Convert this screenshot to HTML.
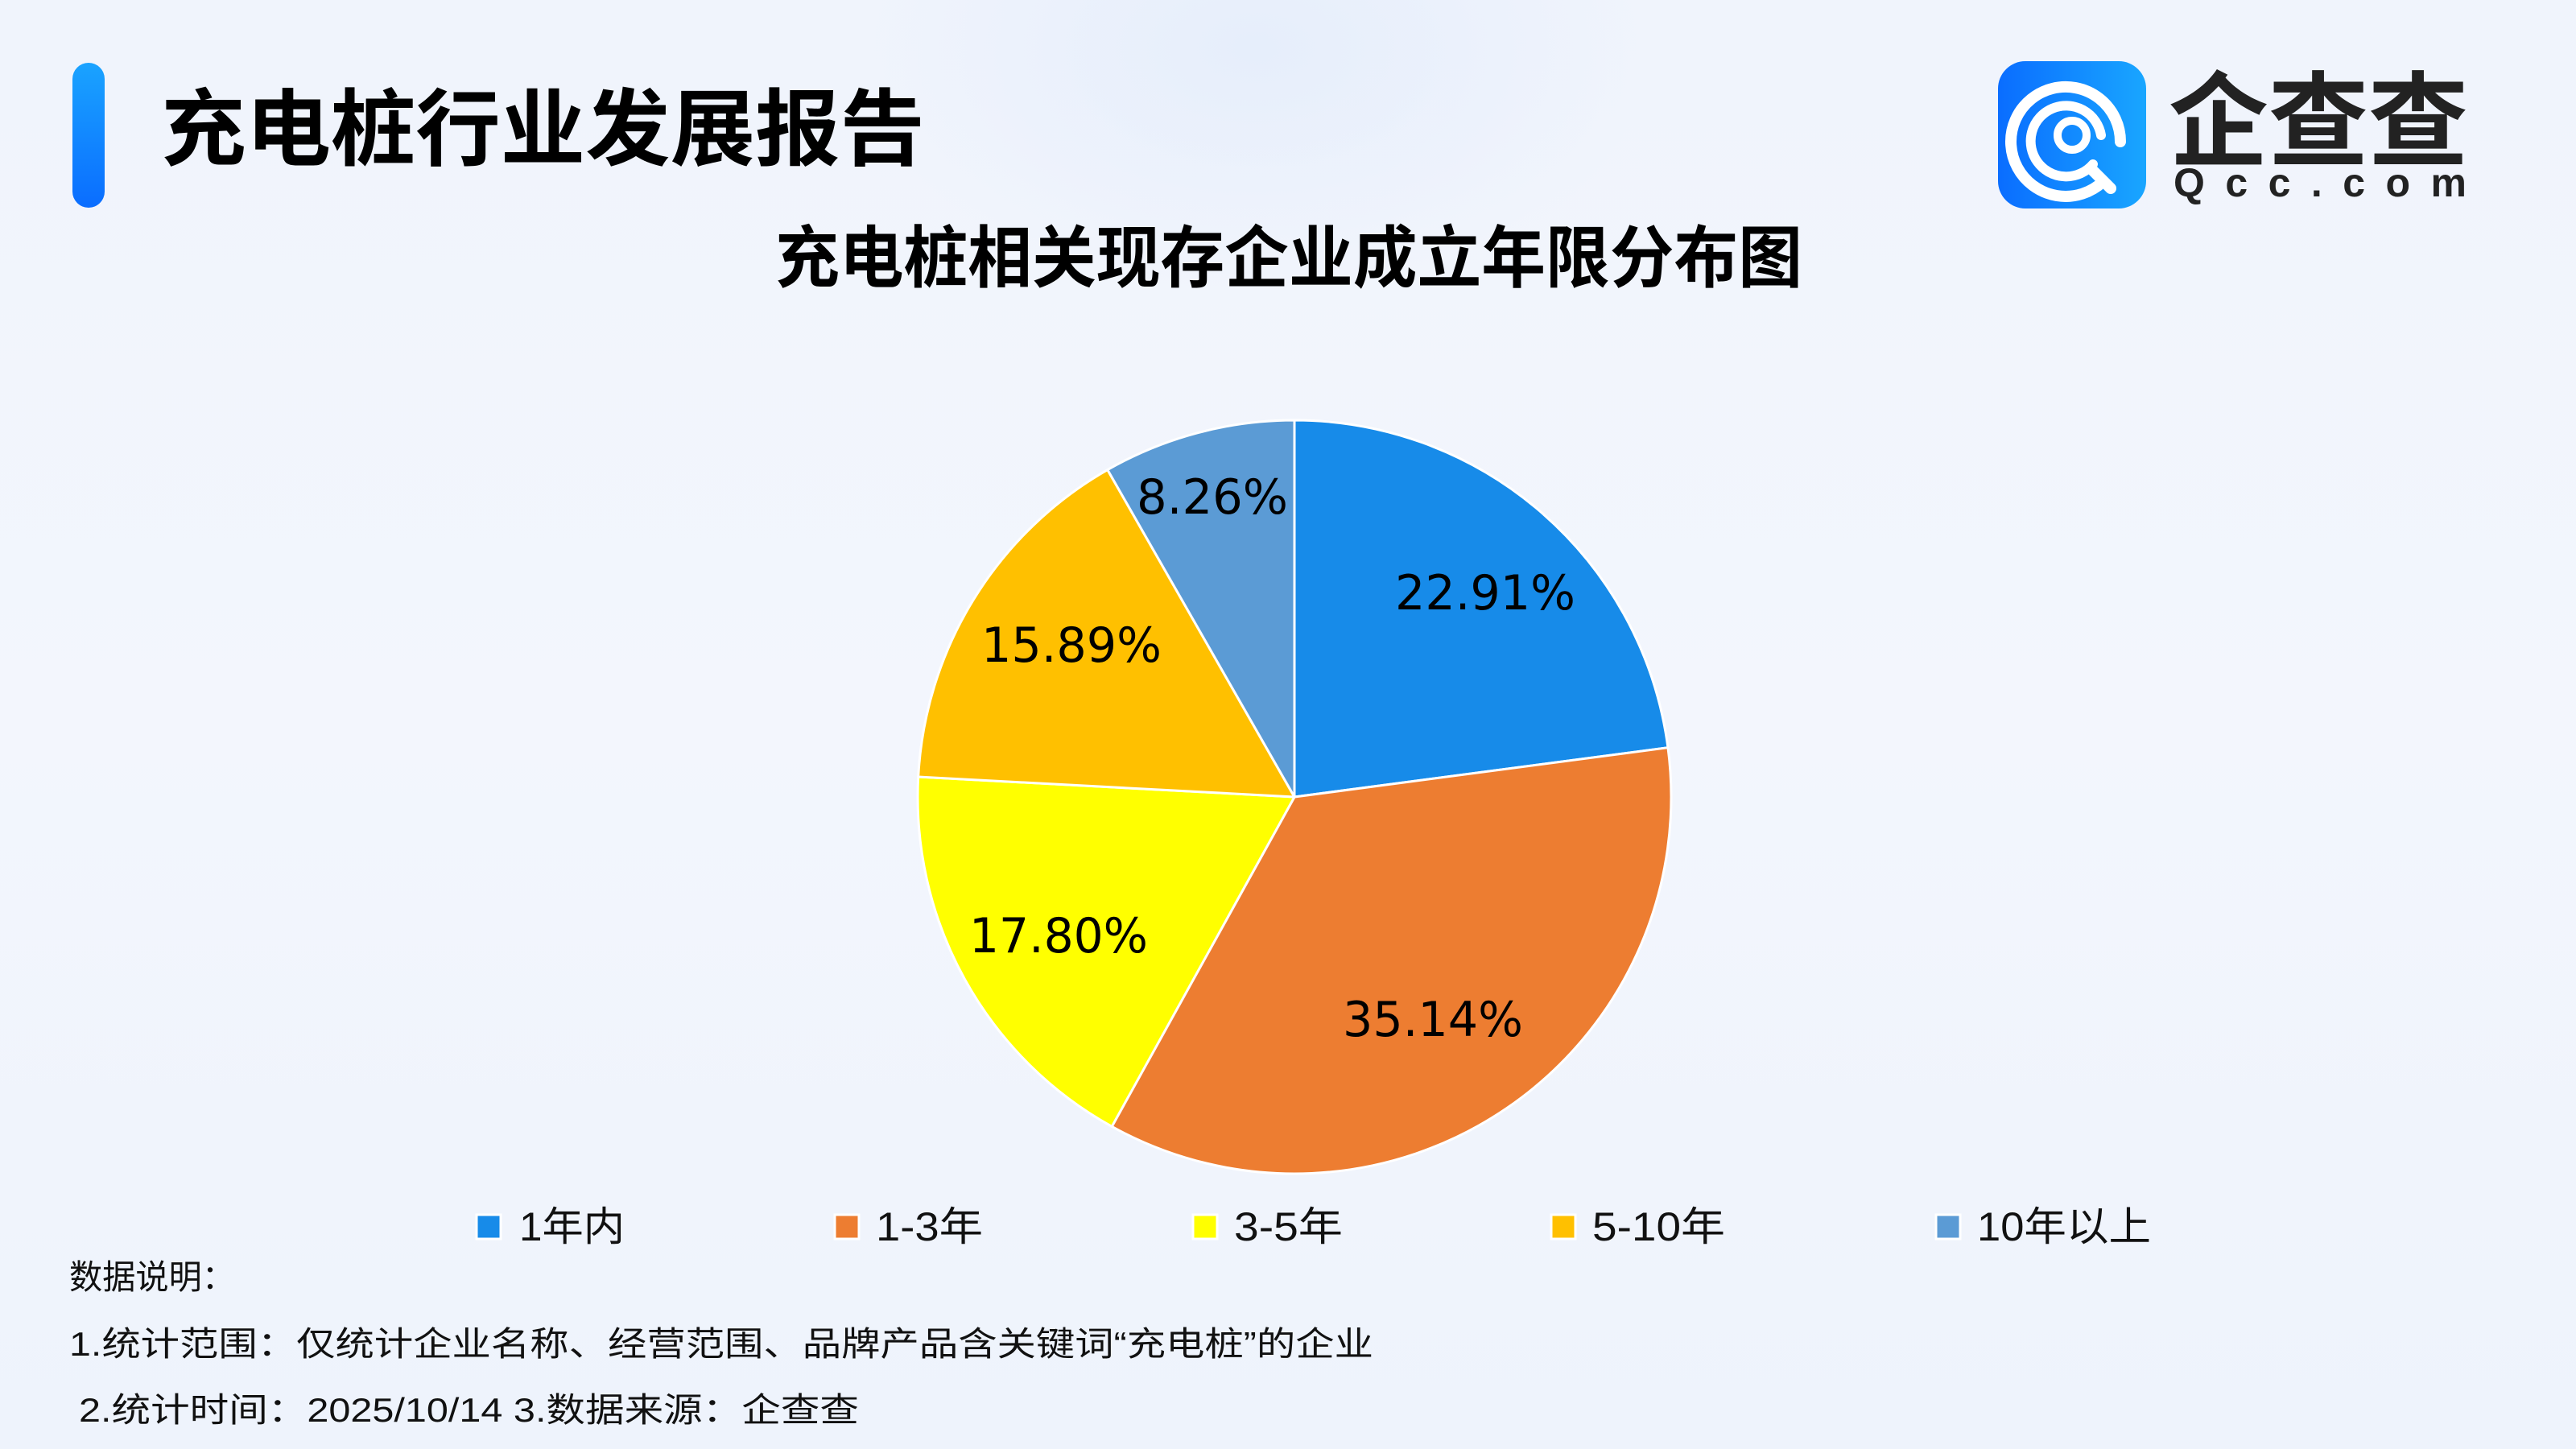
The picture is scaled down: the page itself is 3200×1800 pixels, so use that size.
<!DOCTYPE html>
<html><head><meta charset="utf-8"><style>
html,body{margin:0;padding:0}
body{width:3200px;height:1800px;position:relative;overflow:hidden;
background:radial-gradient(ellipse 500px 300px at 1560px 60px,#e6eefb 0%,rgba(230,238,251,0) 100%),linear-gradient(180deg,#f0f4fc 0%,#f3f6fd 50%,#eef3fc 100%);
font-family:"Liberation Sans","Noto Sans CJK SC",sans-serif;color:#000}
.t{position:absolute;white-space:nowrap}
</style></head><body>
<div style="position:absolute;left:90px;top:78px;width:40px;height:180px;border-radius:20px;background:linear-gradient(180deg,#1aa3ff,#0a6dff)"></div>
<div style="position:absolute;left:2482px;top:76px;width:184px;height:183px;border-radius:34px;background:linear-gradient(90deg,#0a6dff,#19a6ff)">
<svg width="184" height="183" viewBox="0 0 184 183"><g fill="none" stroke="#fff" stroke-linecap="round">
<path d="M130 150 A68 68 0 1 1 152 100" stroke-width="14"/>
<path d="M118 128 A44 44 0 1 1 128 92" stroke-width="12"/>
<circle cx="92" cy="92" r="18" stroke-width="10"/>
<path d="M118 136 L140 158" stroke-width="14"/></g></svg></div>
<svg style="position:absolute;left:0;top:0" width="3200" height="1800">
<g font-family="Liberation Sans, Noto Sans CJK SC, sans-serif" font-weight="bold" fill="#000">
<text x="200" y="197" font-size="104" textLength="949" lengthAdjust="spacingAndGlyphs">充电桩行业发展报告</text>
<text x="963" y="350" font-size="84" textLength="1276" lengthAdjust="spacingAndGlyphs">充电桩相关现存企业成立年限分布图</text>
<text x="2694" y="196" font-size="128" fill="#222" textLength="372" lengthAdjust="spacingAndGlyphs">企查查</text>
<text x="2700" y="244" font-size="50" fill="#222" textLength="364" lengthAdjust="spacing">Qcc.com</text>
</g>
<g stroke="#fff" stroke-width="3" stroke-linejoin="round">
<path d="M1608 990 L1608 522 A468 468 0 0 1 2071.97 928.7 Z" fill="#178be9"/>
<path d="M1608 990 L2071.97 928.7 A468 468 0 0 1 1381.24 1399.4 Z" fill="#ed7d31"/>
<path d="M1608 990 L1381.24 1399.4 A468 468 0 0 1 1140.67 965 Z" fill="#ffff00"/>
<path d="M1608 990 L1140.67 965 A468 468 0 0 1 1375.85 583.6 Z" fill="#ffc000"/>
<path d="M1608 990 L1375.85 583.6 A468 468 0 0 1 1608 522 Z" fill="#5b9bd5"/>
</g>
<g font-family="DejaVu Sans, Liberation Sans, sans-serif" font-size="60" fill="#000" lengthAdjust="spacingAndGlyphs">
<text x="1733" y="757" textLength="224" lengthAdjust="spacingAndGlyphs">22.91%</text>
<text x="1668" y="1287" textLength="224" lengthAdjust="spacingAndGlyphs">35.14%</text>
<text x="1204" y="1183" textLength="222" lengthAdjust="spacingAndGlyphs">17.80%</text>
<text x="1219" y="822" textLength="224" lengthAdjust="spacingAndGlyphs">15.89%</text>
<text x="1412" y="638" textLength="188" lengthAdjust="spacingAndGlyphs">8.26%</text>
</g>
<g>
<rect x="592" y="1509" width="30" height="30" fill="#178be9" stroke="#fff" stroke-width="3"/>
<rect x="1037" y="1509" width="30" height="30" fill="#ed7d31" stroke="#fff" stroke-width="3"/>
<rect x="1482" y="1509" width="30" height="30" fill="#ffff00" stroke="#fff" stroke-width="3"/>
<rect x="1927" y="1509" width="30" height="30" fill="#ffc000" stroke="#fff" stroke-width="3"/>
<rect x="2405" y="1509" width="30" height="30" fill="#5b9bd5" stroke="#fff" stroke-width="3"/>
</g>
<g font-family="Liberation Sans, Noto Sans CJK SC, sans-serif" font-size="50" fill="#111">
<text x="645" y="1541" textLength="131" lengthAdjust="spacingAndGlyphs">1年内</text>
<text x="1088" y="1541" textLength="133" lengthAdjust="spacingAndGlyphs">1-3年</text>
<text x="1533" y="1541" textLength="135" lengthAdjust="spacingAndGlyphs">3-5年</text>
<text x="1978" y="1541" textLength="165" lengthAdjust="spacingAndGlyphs">5-10年</text>
<text x="2456" y="1541" textLength="216" lengthAdjust="spacingAndGlyphs">10年以上</text>
</g>
<g font-family="Liberation Sans, Noto Sans CJK SC, sans-serif" font-size="42" fill="#111">
<text x="86" y="1601" textLength="206" lengthAdjust="spacingAndGlyphs">数据说明：</text>
<text x="86" y="1684" textLength="1620" lengthAdjust="spacingAndGlyphs">1.统计范围：仅统计企业名称、经营范围、品牌产品含关键词“充电桩”的企业</text>
<text x="98" y="1766" textLength="969" lengthAdjust="spacingAndGlyphs">2.统计时间：2025/10/14 3.数据来源：企查查</text>
</g>
</svg>
</body></html>
